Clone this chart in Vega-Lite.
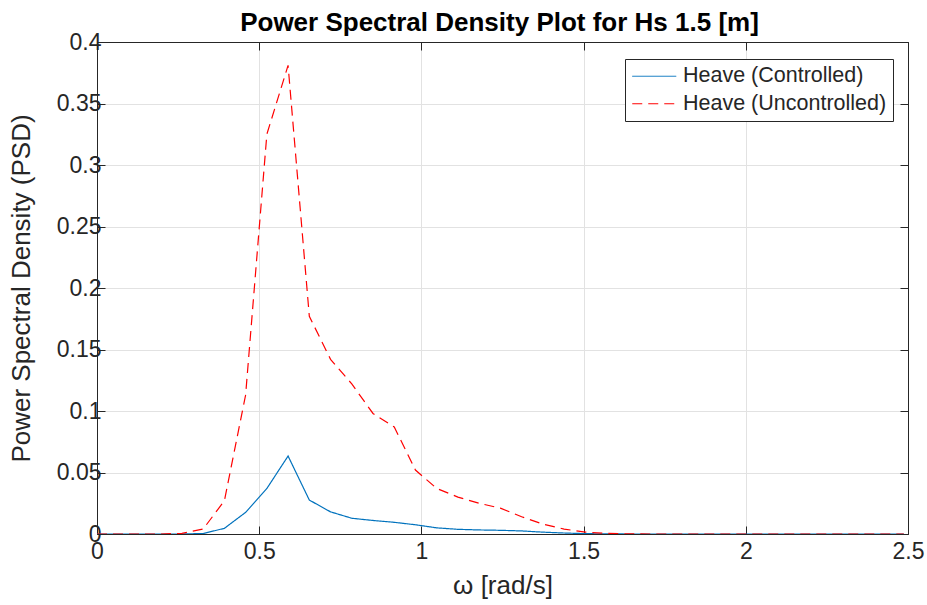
{
  "$schema": "https://vega.github.io/schema/vega-lite/v6.json",
  "width": 811,
  "height": 492,
  "autosize": "none",
  "padding": {"left": 97, "top": 42, "right": 19, "bottom": 71},
  "background": "white",
  "config": {
    "font": "Liberation Sans",
    "view": {"stroke": "#262626", "strokeWidth": 1},
    "axis": {
      "domainColor": "#262626",
      "tickColor": "#262626",
      "tickWidth": 1,
      "gridColor": "#e2e2e2",
      "gridWidth": 1,
      "labelColor": "#262626",
      "titleColor": "#262626",
      "labelFont": "Liberation Sans",
      "titleFont": "Liberation Sans",
      "labelFontSize": 23,
      "titleFontSize": 26,
      "titleFontWeight": "normal",
      "tickSize": -8
    }
  },
  "title": {
    "text": "Power Spectral Density Plot for Hs 1.5 [m]",
    "fontSize": 26,
    "fontWeight": "bold",
    "color": "#000000",
    "anchor": "middle",
    "dx": -3,
    "offset": -5
  },
  "data": {
    "values": [
      {"series": "Heave (Controlled)", "omega": 0, "psd": 0},
      {"series": "Heave (Controlled)", "omega": 0.0654, "psd": 0},
      {"series": "Heave (Controlled)", "omega": 0.1309, "psd": 0},
      {"series": "Heave (Controlled)", "omega": 0.1963, "psd": 0},
      {"series": "Heave (Controlled)", "omega": 0.2618, "psd": 0},
      {"series": "Heave (Controlled)", "omega": 0.3272, "psd": 0.0004},
      {"series": "Heave (Controlled)", "omega": 0.3927, "psd": 0.0046},
      {"series": "Heave (Controlled)", "omega": 0.4581, "psd": 0.0176},
      {"series": "Heave (Controlled)", "omega": 0.5236, "psd": 0.037},
      {"series": "Heave (Controlled)", "omega": 0.589, "psd": 0.0634},
      {"series": "Heave (Controlled)", "omega": 0.6545, "psd": 0.0276},
      {"series": "Heave (Controlled)", "omega": 0.7199, "psd": 0.018},
      {"series": "Heave (Controlled)", "omega": 0.7854, "psd": 0.0128},
      {"series": "Heave (Controlled)", "omega": 0.8508, "psd": 0.011},
      {"series": "Heave (Controlled)", "omega": 0.9163, "psd": 0.0095},
      {"series": "Heave (Controlled)", "omega": 0.9817, "psd": 0.0075},
      {"series": "Heave (Controlled)", "omega": 1.0472, "psd": 0.005},
      {"series": "Heave (Controlled)", "omega": 1.1126, "psd": 0.0038},
      {"series": "Heave (Controlled)", "omega": 1.1781, "psd": 0.0033},
      {"series": "Heave (Controlled)", "omega": 1.2435, "psd": 0.003},
      {"series": "Heave (Controlled)", "omega": 1.309, "psd": 0.0025},
      {"series": "Heave (Controlled)", "omega": 1.3744, "psd": 0.0015},
      {"series": "Heave (Controlled)", "omega": 1.4399, "psd": 0.0008},
      {"series": "Heave (Controlled)", "omega": 1.5053, "psd": 0.0003},
      {"series": "Heave (Controlled)", "omega": 1.5708, "psd": 0.0001},
      {"series": "Heave (Controlled)", "omega": 1.6362, "psd": 0},
      {"series": "Heave (Controlled)", "omega": 1.7017, "psd": 0},
      {"series": "Heave (Controlled)", "omega": 1.7671, "psd": 0},
      {"series": "Heave (Controlled)", "omega": 1.8326, "psd": 0},
      {"series": "Heave (Controlled)", "omega": 1.898, "psd": 0},
      {"series": "Heave (Controlled)", "omega": 1.9635, "psd": 0},
      {"series": "Heave (Controlled)", "omega": 2.0289, "psd": 0},
      {"series": "Heave (Controlled)", "omega": 2.0944, "psd": 0},
      {"series": "Heave (Controlled)", "omega": 2.1598, "psd": 0},
      {"series": "Heave (Controlled)", "omega": 2.2253, "psd": 0},
      {"series": "Heave (Controlled)", "omega": 2.2907, "psd": 0},
      {"series": "Heave (Controlled)", "omega": 2.3562, "psd": 0},
      {"series": "Heave (Controlled)", "omega": 2.4216, "psd": 0},
      {"series": "Heave (Controlled)", "omega": 2.4871, "psd": 0},
      {"series": "Heave (Uncontrolled)", "omega": 0, "psd": 0},
      {"series": "Heave (Uncontrolled)", "omega": 0.0654, "psd": 0},
      {"series": "Heave (Uncontrolled)", "omega": 0.1309, "psd": 0},
      {"series": "Heave (Uncontrolled)", "omega": 0.1963, "psd": 0},
      {"series": "Heave (Uncontrolled)", "omega": 0.2618, "psd": 0.0005},
      {"series": "Heave (Uncontrolled)", "omega": 0.3272, "psd": 0.004},
      {"series": "Heave (Uncontrolled)", "omega": 0.3927, "psd": 0.027},
      {"series": "Heave (Uncontrolled)", "omega": 0.4581, "psd": 0.113},
      {"series": "Heave (Uncontrolled)", "omega": 0.5236, "psd": 0.325},
      {"series": "Heave (Uncontrolled)", "omega": 0.589, "psd": 0.381},
      {"series": "Heave (Uncontrolled)", "omega": 0.6545, "psd": 0.177},
      {"series": "Heave (Uncontrolled)", "omega": 0.7199, "psd": 0.142},
      {"series": "Heave (Uncontrolled)", "omega": 0.7854, "psd": 0.122},
      {"series": "Heave (Uncontrolled)", "omega": 0.8508, "psd": 0.098},
      {"series": "Heave (Uncontrolled)", "omega": 0.9163, "psd": 0.087},
      {"series": "Heave (Uncontrolled)", "omega": 0.9817, "psd": 0.052},
      {"series": "Heave (Uncontrolled)", "omega": 1.0472, "psd": 0.037},
      {"series": "Heave (Uncontrolled)", "omega": 1.1126, "psd": 0.03},
      {"series": "Heave (Uncontrolled)", "omega": 1.1781, "psd": 0.025},
      {"series": "Heave (Uncontrolled)", "omega": 1.2435, "psd": 0.021},
      {"series": "Heave (Uncontrolled)", "omega": 1.309, "psd": 0.014},
      {"series": "Heave (Uncontrolled)", "omega": 1.3744, "psd": 0.008},
      {"series": "Heave (Uncontrolled)", "omega": 1.4399, "psd": 0.004},
      {"series": "Heave (Uncontrolled)", "omega": 1.5053, "psd": 0.0015},
      {"series": "Heave (Uncontrolled)", "omega": 1.5708, "psd": 0.0005},
      {"series": "Heave (Uncontrolled)", "omega": 1.6362, "psd": 0.0001},
      {"series": "Heave (Uncontrolled)", "omega": 1.7017, "psd": 0},
      {"series": "Heave (Uncontrolled)", "omega": 1.7671, "psd": 0},
      {"series": "Heave (Uncontrolled)", "omega": 1.8326, "psd": 0},
      {"series": "Heave (Uncontrolled)", "omega": 1.898, "psd": 0},
      {"series": "Heave (Uncontrolled)", "omega": 1.9635, "psd": 0},
      {"series": "Heave (Uncontrolled)", "omega": 2.0289, "psd": 0},
      {"series": "Heave (Uncontrolled)", "omega": 2.0944, "psd": 0},
      {"series": "Heave (Uncontrolled)", "omega": 2.1598, "psd": 0},
      {"series": "Heave (Uncontrolled)", "omega": 2.2253, "psd": 0},
      {"series": "Heave (Uncontrolled)", "omega": 2.2907, "psd": 0},
      {"series": "Heave (Uncontrolled)", "omega": 2.3562, "psd": 0},
      {"series": "Heave (Uncontrolled)", "omega": 2.4216, "psd": 0},
      {"series": "Heave (Uncontrolled)", "omega": 2.4871, "psd": 0}
    ]
  },
  "layer": [
    {
      "mark": {"type": "line", "strokeWidth": 1.2, "clip": true},
      "encoding": {
        "x": {
          "field": "omega", "type": "quantitative",
          "scale": {"domain": [0, 2.5], "nice": false, "zero": false},
          "axis": {"title": "ω [rad/s]", "values": [0, 0.5, 1, 1.5, 2, 2.5], "format": "~g", "tickSize": -8, "labelPadding": 14, "titlePadding": 9, "labelFlush": false}
        },
        "y": {
          "field": "psd", "type": "quantitative",
          "scale": {"domain": [0, 0.4], "nice": false},
          "axis": {"title": "Power Spectral Density (PSD)", "values": [0, 0.05, 0.1, 0.15, 0.2, 0.25, 0.3, 0.35, 0.4], "format": "~g", "tickSize": -8, "labelPadding": 4, "titlePadding": 22}
        },
        "color": {
          "field": "series", "type": "nominal",
          "scale": {"domain": ["Heave (Controlled)", "Heave (Uncontrolled)"], "range": ["#0072BD", "#FF0000"]},
          "legend": {
            "title": null,
            "orient": "none",
            "legendX": 528,
            "legendY": 17,
            "symbolType": "M-1,0H3.4",
            "symbolSize": 400,
            "symbolStrokeWidth": 1,
            "symbolFillColor": "transparent",
            "labelFontSize": 21.5,
            "labelColor": "#262626",
            "labelFont": "Liberation Sans",
            "labelLimit": 400,
            "rowPadding": 4.5,
            "labelOffset": 30,
            "padding": 6.5,
            "strokeColor": "#262626",
            "fillColor": "white"
          }
        },
        "strokeDash": {
          "field": "series", "type": "nominal",
          "scale": {"domain": ["Heave (Controlled)", "Heave (Uncontrolled)"], "range": [[1, 0], [10, 6]]},
          "legend": null
        }
      }
    },
    {
      "mark": {"type": "line", "opacity": 0},
      "encoding": {
        "x": {"field": "omega", "type": "quantitative", "axis": {"orient": "top", "labels": false, "title": null, "grid": false, "tickSize": -8, "values": [0, 0.5, 1, 1.5, 2, 2.5]}},
        "y": {"field": "psd", "type": "quantitative", "axis": {"orient": "right", "labels": false, "title": null, "grid": false, "tickSize": -8, "values": [0, 0.05, 0.1, 0.15, 0.2, 0.25, 0.3, 0.35, 0.4]}}
      }
    }
  ],
  "resolve": {"axis": {"x": "independent", "y": "independent"}}
}
